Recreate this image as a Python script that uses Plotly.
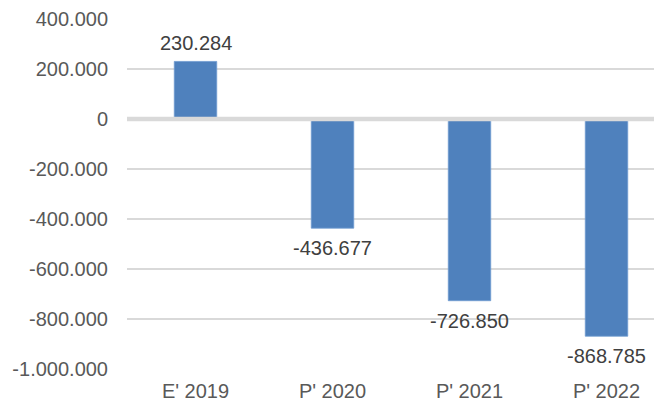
import plotly.graph_objects as go

categories = ["E' 2019", "P' 2020", "P' 2021", "P' 2022"]
values = [230284, -436677, -726850, -868785]
tick_vals = [400000, 200000, 0, -200000, -400000, -600000, -800000, -1000000]
tick_text = ["400.000", "200.000", "0", "-200.000", "-400.000", "-600.000", "-800.000", "-1.000.000"]

def fmt(v):
    return f"{v:,}".replace(",", ".")

FONT = "Liberation Sans, Arial, sans-serif"
BAR = "#4F81BD"
GRID = "#D9D9D9"

fig = go.Figure()
fig.add_trace(go.Bar(
    x=list(range(len(categories))), y=values,
    width=0.31,
    marker=dict(color=BAR, line=dict(color="#6E9AD1", width=0.8)),
    hoverinfo="skip",
))

annotations = []
for i, v in enumerate(values):
    annotations.append(dict(
        x=i, y=v, xref="x", yref="y", text=fmt(v), showarrow=False,
        yanchor="bottom" if v >= 0 else "top",
        yshift=5 if v >= 0 else -7,
        font=dict(family=FONT, size=20, color="#404040"),
    ))

# page body has an 8px margin; compensate so the plot area lands where the reference has it
fig.update_layout(
    width=654, height=393,
    margin=dict(l=119, r=0, t=11, b=32),
    paper_bgcolor="white", plot_bgcolor="white",
    showlegend=False,
    font=dict(family=FONT, size=20, color="#595959"),
    annotations=annotations,
    shapes=[dict(type="line", xref="paper", yref="y", x0=0, x1=1, y0=0, y1=0,
                 line=dict(color=GRID, width=4.5), layer="above")],
    xaxis=dict(
        range=[-0.5, -0.5 + 535 / 137],
        tickvals=list(range(len(categories))), ticktext=categories,
        showgrid=False, zeroline=False, showline=False, ticks="",
        ticklabelstandoff=8, automargin=False,
        tickfont=dict(family=FONT, size=20, color="#595959"),
        fixedrange=True,
    ),
    yaxis=dict(
        range=[-1000000, 400000],
        tickvals=tick_vals, ticktext=tick_text,
        showgrid=True, gridcolor=GRID, gridwidth=2,
        zeroline=False, showline=False, ticks="",
        ticklabelstandoff=18, automargin=False,
        tickfont=dict(family=FONT, size=20, color="#595959"),
        fixedrange=True,
    ),
)

fig.write_html("out.html", config={"displayModeBar": False})
